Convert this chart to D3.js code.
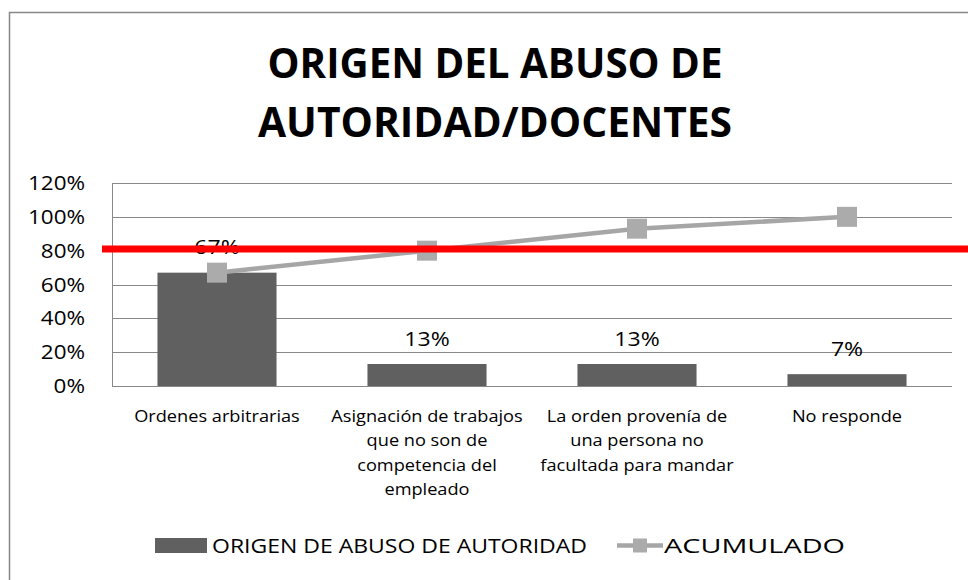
<!DOCTYPE html>
<html>
<head>
<meta charset="utf-8">
<script src="https://cdn.jsdelivr.net/npm/d3@7"></script>
<style>
  body { margin: 0; background: #ffffff; }
  svg { display: block; font-family: 'Open Sans', sans-serif; }
</style>
</head>
<body>
<div id="chart"></div>
<script>
// chart values
var categorias = [
    ['Ordenes arbitrarias'],
    ['Asignación de trabajos', 'que no son de', 'competencia del', 'empleado'],
    ['La orden provenía de', 'una persona no', 'facultada para mandar'],
    ['No responde']
];
var origen = [0.67, 0.13, 0.13, 0.07];
var etiquetas = ['67%', '13%', '13%', '7%'];
var acumulado = [0.67, 0.80, 0.93, 1.00];
var yTicks = [0, 0.2, 0.4, 0.6, 0.8, 1.0, 1.2];
var umbral = 0.81;

var titulo = ['ORIGEN DEL ABUSO DE', 'AUTORIDAD/DOCENTES'];
var leyenda = ['ORIGEN DE ABUSO DE AUTORIDAD', 'ACUMULADO'];

// layout
var width = 968, height = 580;
var plot = { left: 112, right: 952, top: 183, bottom: 386 };
var stretch = 1.15; // the reference text is a bit wider than Open Sans

var colors = {
    bar: '#606060',
    line: '#a6a6a6',
    marker: '#ababab',
    grid: '#888888',
    red: '#ff0000',
    text: '#000000'
};

var svg = d3.select('#chart').append('svg')
    .attr('width', width)
    .attr('height', height);

svg.append('rect')
    .attr('width', width).attr('height', height)
    .attr('fill', '#ffffff');

// outer frame (runs past the picture on the right and bottom)
svg.append('rect')
    .attr('x', 9.5).attr('y', 12.5)
    .attr('width', 975).attr('height', 600)
    .attr('fill', 'none')
    .attr('stroke', '#878787')
    .attr('stroke-width', 1.5);

// widen a text element by a factor, or to an exact width
function widen(sel, factor, exact) {
    sel.each(function() {
        var w = exact || this.getComputedTextLength() * factor;
        d3.select(this)
            .attr('textLength', w)
            .attr('lengthAdjust', 'spacingAndGlyphs');
    });
}

// title
var titleWidths = [455, 474];
titulo.forEach(function(t, i) {
    var el = svg.append('text')
        .attr('x', 495)
        .attr('y', 78 + i * 59)
        .attr('text-anchor', 'middle')
        .style('font-size', '42px')
        .style('font-weight', 'bold')
        .attr('fill', colors.text)
        .text(t);
    widen(el, 1, titleWidths[i]);
});

// scales
var x = d3.scaleBand()
    .domain(d3.range(categorias.length))
    .range([plot.left, plot.right])
    .paddingInner(0.433)
    .paddingOuter(0.2165);

var y = d3.scaleLinear()
    .domain([0, 1.2])
    .range([plot.bottom, plot.top]);

// gridlines
svg.append('g')
    .selectAll('line')
    .data(yTicks)
    .join('line')
    .attr('x1', plot.left).attr('x2', plot.right)
    .attr('y1', function(d) { return Math.round(y(d)) + 0.5; })
    .attr('y2', function(d) { return Math.round(y(d)) + 0.5; })
    .attr('stroke', colors.grid)
    .attr('stroke-width', 1);

// value axis line
svg.append('line')
    .attr('x1', plot.left + 0.5).attr('x2', plot.left + 0.5)
    .attr('y1', y(1.2)).attr('y2', y(0))
    .attr('stroke', colors.grid);

// y tick labels
var yLabels = svg.append('g')
    .selectAll('text')
    .data(yTicks)
    .join('text')
    .attr('x', 85)
    .attr('y', function(d) { return y(d) + 7; })
    .attr('text-anchor', 'end')
    .style('font-size', '19.5px')
    .attr('fill', colors.text)
    .text(d3.format('.0%'));
widen(yLabels, stretch);

// bars
svg.append('g')
    .selectAll('rect')
    .data(origen)
    .join('rect')
    .attr('x', function(d, i) { return x(i); })
    .attr('y', function(d) { return y(d); })
    .attr('width', x.bandwidth())
    .attr('height', function(d) { return y(0) - y(d); })
    .attr('fill', colors.bar);

// cumulative line
var cx = function(i) { return x(i) + x.bandwidth() / 2; };
var line = d3.line()
    .x(function(d, i) { return cx(i); })
    .y(function(d) { return y(d); });

svg.append('path')
    .datum(acumulado)
    .attr('d', line)
    .attr('fill', 'none')
    .attr('stroke', colors.line)
    .attr('stroke-width', 4.5);

var mk = 20;
svg.append('g')
    .selectAll('rect')
    .data(acumulado)
    .join('rect')
    .attr('x', function(d, i) { return cx(i) - mk / 2; })
    .attr('y', function(d) { return y(d) - mk / 2; })
    .attr('width', mk).attr('height', mk)
    .attr('fill', colors.marker);

// bar data labels
var dataLabels = svg.append('g')
    .selectAll('text')
    .data(origen)
    .join('text')
    .attr('x', function(d, i) { return cx(i); })
    .attr('y', function(d) { return y(d) - 18.5; })
    .attr('text-anchor', 'middle')
    .style('font-size', '20px')
    .attr('fill', colors.text)
    .text(function(d, i) { return etiquetas[i]; });
widen(dataLabels, stretch);

// red threshold line, runs off the right edge
svg.append('line')
    .attr('x1', 102).attr('x2', width)
    .attr('y1', y(umbral)).attr('y2', y(umbral))
    .attr('stroke', colors.red)
    .attr('stroke-width', 7);

// category labels
categorias.forEach(function(lines, i) {
    lines.forEach(function(t, j) {
        var el = svg.append('text')
            .attr('x', cx(i))
            .attr('y', 421.5 + j * 24.5)
            .attr('text-anchor', 'middle')
            .style('font-size', '15.8px')
            .attr('fill', colors.text)
            .text(t);
        widen(el, stretch);
    });
});

// legend
svg.append('rect')
    .attr('x', 155).attr('y', 538)
    .attr('width', 52).attr('height', 15)
    .attr('fill', colors.bar);
widen(svg.append('text')
    .attr('x', 212).attr('y', 552.5)
    .style('font-size', '20.5px')
    .attr('fill', colors.text)
    .text(leyenda[0]), 1, 375);

svg.append('line')
    .attr('x1', 617).attr('x2', 663)
    .attr('y1', 545.5).attr('y2', 545.5)
    .attr('stroke', colors.line)
    .attr('stroke-width', 4.5);
svg.append('rect')
    .attr('x', 633).attr('y', 538.5)
    .attr('width', 14).attr('height', 14)
    .attr('fill', colors.marker);
widen(svg.append('text')
    .attr('x', 664).attr('y', 552.5)
    .style('font-size', '20.5px')
    .attr('fill', colors.text)
    .text(leyenda[1]), 1, 181);
</script>
</body>
</html>
